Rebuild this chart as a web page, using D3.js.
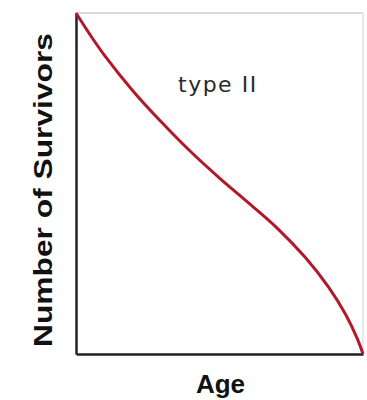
<!DOCTYPE html>
<html>
<head>
<meta charset="utf-8">
<script src="https://cdn.jsdelivr.net/npm/d3@7"></script>
<style>
  body { margin: 0; background: #fff; }
</style>
</head>
<body>
<div id="chart-area"></div>
<script>

// Data (age and survivors in % of max)
var ages      = [0, 5, 10, 20, 30, 40, 50, 60, 70, 80, 88, 94, 98, 100];
var survivors = [100, 93.5, 87.5, 77, 67.8, 59.3, 51.6, 44.4, 37, 28.2, 19.6, 11.5, 4.5, 0];
var curveLabel = "type II";
var xTitle = "Age";
var yTitle = "Number of Survivors";

var margin = {top: 13, right: 4, bottom: 46, left: 76};

var width = 367 - margin.left - margin.right,
    height = 400 - margin.top - margin.bottom;

var svg = d3.select("#chart-area").append("svg")
    .attr("width", 367)
    .attr("height", 400)
  .append("g")
    .attr("transform", "translate(" + margin.left + "," + margin.top + ")");

// Scales
var x = d3.scaleLinear()
    .domain([0, 100])
    .range([0, width]);

var y = d3.scaleLinear()
    .domain([0, 100])
    .range([height, 0]);

// light frame on top and right
svg.append("line")
    .attr("x1", x(0)).attr("x2", x(100))
    .attr("y1", y(100)).attr("y2", y(100))
    .attr("stroke", "#cfcfcf")
    .attr("stroke-width", 1.5);

svg.append("line")
    .attr("x1", x(100)).attr("x2", x(100))
    .attr("y1", y(100)).attr("y2", y(0))
    .attr("stroke", "#dde2ea")
    .attr("stroke-width", 1.5);

// Axes, no ticks
var xAxis = d3.axisBottom(x).tickValues([]).tickSizeOuter(0);
var yAxis = d3.axisLeft(y).tickValues([]).tickSizeOuter(0);

svg.append("g")
    .attr("class", "x-axis axis")
    .attr("transform", "translate(0," + height + ")")
    .call(xAxis);

svg.append("g")
    .attr("class", "y-axis axis")
    .call(yAxis);

svg.selectAll(".axis path")
    .attr("stroke", "#222")
    .attr("stroke-width", 2.5);

// survivorship curve
var points = ages.map(function(a, i) { return [a, survivors[i]]; });

var line = d3.line()
    .x(function(d) { return x(d[0]); })
    .y(function(d) { return y(d[1]); })
    .curve(d3.curveCatmullRom.alpha(0.5));

svg.append("path")
    .datum(points)
    .attr("fill", "none")
    .attr("stroke", "#b3182a")
    .attr("stroke-width", 3)
    .attr("d", line);

// curve label
svg.append("text")
    .attr("x", 178 - margin.left)
    .attr("y", 92 - margin.top)
    .attr("font-family", "DejaVu Sans, sans-serif")
    .attr("font-size", 22)
    .attr("letter-spacing", 1.5)
    .attr("fill", "#2a2a2a")
    .text(curveLabel);

// axis titles
svg.append("text")
    .attr("x", width / 2 + 1)
    .attr("y", height + 39)
    .attr("text-anchor", "middle")
    .attr("font-family", "Liberation Sans, Arial, sans-serif")
    .attr("font-weight", "bold")
    .attr("font-size", 26)
    .attr("fill", "#111")
    .text(xTitle);

svg.append("text")
    .attr("transform", "translate(" + (52 - margin.left) + "," + (190 - margin.top) + ") rotate(-90)")
    .attr("text-anchor", "middle")
    .attr("font-family", "Liberation Sans, Arial, sans-serif")
    .attr("font-weight", "bold")
    .attr("font-size", 26)
    .attr("textLength", 314)
    .attr("lengthAdjust", "spacingAndGlyphs")
    .attr("fill", "#111")
    .text(yTitle);

</script>
</body>
</html>
